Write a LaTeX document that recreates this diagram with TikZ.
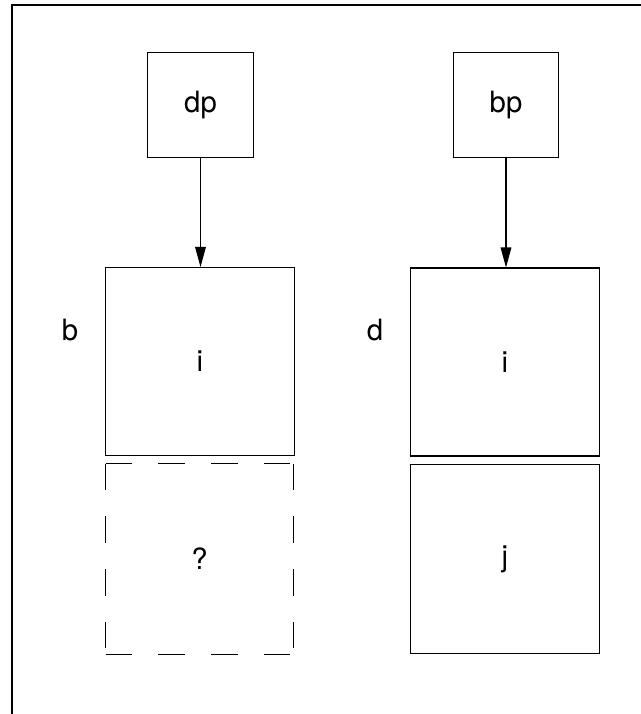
\documentclass[tikz,border=0pt]{standalone}
\usepackage{fontspec}
\setmainfont{TeX Gyre Heros}
\usetikzlibrary{arrows.meta}

\tikzset{
	cell/.style={draw, line width=0.8pt, inner sep=0pt, font=\fontsize{22}{26}\selectfont},
	ptr/.style={cell, minimum width=79pt, minimum height=79pt},
	slot/.style={cell, minimum width=142pt, minimum height=141pt},
	ghost/.style={line width=0.8pt, dash pattern=on 20pt off 19.5pt},
	link/.style={line width=0.8pt, -{Triangle[length=15pt, width=8pt]}},
	tag/.style={font=\fontsize{22}{26}\selectfont}
}

\begin{document}
\begin{tikzpicture}[x=0.75pt, y=-0.75pt]
		\useasboundingbox ( 0, 0 ) rectangle ( 640, 714 );
		% рамка
		\draw [line width=0.8pt] ( 12, 730 ) -- ( 12, 5 ) -- ( 660, 5 );

		% указатели
		\node [ptr] (dp) at ( 200.5, 105 ) {dp};
		\node [ptr] (bp) at ( 506, 105 ) {bp};

		% ячейки b
		\node [slot] (bi) at ( 200, 361.5 ) {i};
		\node [cell, draw=none, minimum width=140pt, minimum height=142pt] (bq) at ( 199.5, 559 ) {?};
		\draw [ghost] (bq.north west) -- (bq.north east) (bq.north east) -- (bq.south east)
			(bq.south west) -- (bq.south east) (bq.north west) -- (bq.south west);
		\node [tag] (b) at ( 70, 330 ) {b};

		% ячейки d
		\node [slot] (di) at ( 505, 362 ) {i};
		\node [slot, minimum height=142pt] (dj) at ( 505, 559 ) {j};
		\node [tag] (d) at ( 375, 330 ) {d};

		% стрелки
		\draw [link] (dp.south) -- (dp.south |- bi.north);
		\draw [link] (bp.south) -- (bp.south |- di.north);
\end{tikzpicture}
\end{document}
